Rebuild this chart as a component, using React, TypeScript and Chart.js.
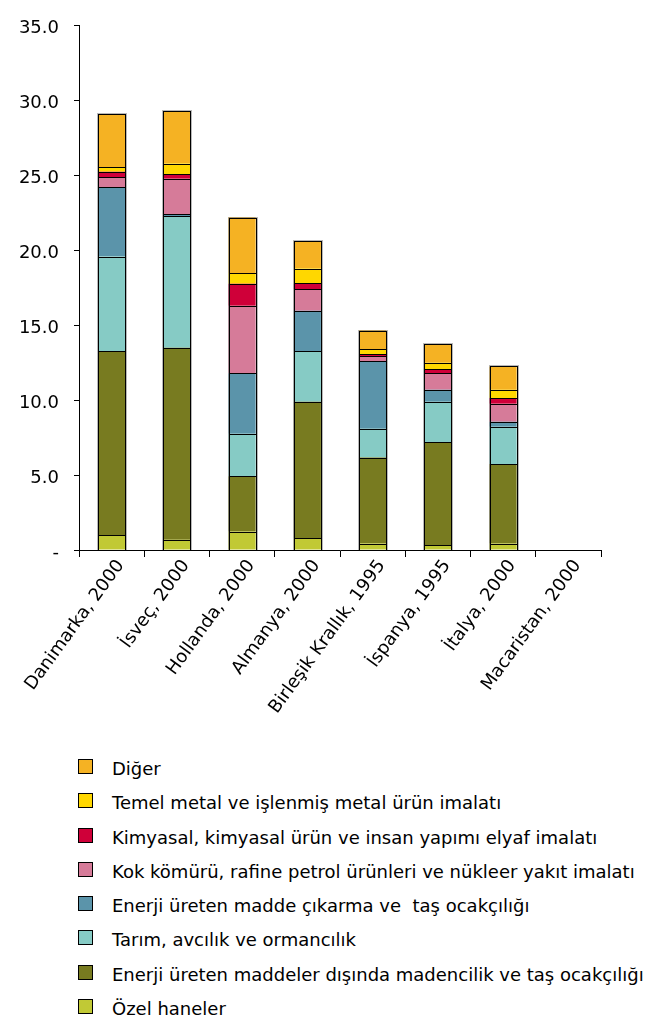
import React, { useEffect, useRef } from "react";
import { Chart, registerables } from "chart.js";

Chart.register(...registerables);

// Categories (country, year)
const categories = [
  "Danimarka, 2000",
  "İsveç, 2000",
  "Hollanda, 2000",
  "Almanya, 2000",
  "Birleşik Krallık, 1995",
  "İspanya, 1995",
  "İtalya, 2000",
  "Macaristan, 2000",
];

// Series values, stacked bottom to top
const ozelHaneler = [0.98, 0.68, 1.23, 0.78, 0.43, 0.32, 0.43, null];
const madencilik = [12.3, 12.82, 3.7, 9.12, 5.74, 6.87, 5.32, null];
const tarim = [6.31, 8.78, 2.83, 3.38, 1.92, 2.71, 2.48, null];
const enerjiCikarma = [4.64, 0.16, 4.04, 2.69, 4.53, 0.8, 0.33, null];
const kokKomuru = [0.66, 2.34, 4.5, 1.46, 0.31, 1.1, 1.21, null];
const kimyasal = [0.36, 0.33, 1.48, 0.37, 0.13, 0.27, 0.38, null];
const temelMetal = [0.33, 0.69, 0.71, 0.99, 0.35, 0.43, 0.55, null];
const diger = [3.51, 3.48, 3.71, 1.82, 1.24, 1.24, 1.56, null];

// Series names, in stacking order (bottom first)
const seriesNames = [
  "Özel haneler",
  "Enerji üreten maddeler dışında madencilik ve taş ocakçılığı",
  "Tarım, avcılık ve ormancılık",
  "Enerji üreten madde çıkarma ve  taş ocakçılığı",
  "Kok kömürü, rafine petrol ürünleri ve nükleer yakıt imalatı",
  "Kimyasal, kimyasal ürün ve insan yapımı elyaf imalatı",
  "Temel metal ve işlenmiş metal ürün imalatı",
  "Diğer",
];
const seriesValues = [ozelHaneler, madencilik, tarim, enerjiCikarma, kokKomuru, kimyasal, temelMetal, diger];
const seriesColors = ["#C1C935", "#787B20", "#86CBC5", "#5B94AA", "#D67B99", "#CF0039", "#FFD700", "#F5B223"];

// Y-axis ticks
const yTickValues = [0, 5, 10, 15, 20, 25, 30, 35];
const yTickLabels = ["-", "5.0", "10.0", "15.0", "20.0", "25.0", "30.0", "35.0"];

const FONT = "'DejaVu Sans', Verdana, sans-serif";
const CANVAS_W = 651;
const CANVAS_H = 740;

// Crisp 1px outlines on every bar segment, plus a soft grey edge around each stack
const crispOutline = {
  id: "crispOutline",
  afterDatasetsDraw(chart: any) {
    const ctx = chart.ctx;
    const stacks: Record<number, { l: number; r: number; t: number; b: number }> = {};
    const rects: { l: number; r: number; t: number; b: number }[] = [];
    chart.data.datasets.forEach((_: any, di: number) => {
      const meta = chart.getDatasetMeta(di);
      meta.data.forEach((el: any, idx: number) => {
        const v = chart.data.datasets[di].data[idx];
        if (v === null || v === undefined) return;
        const p = el.getProps(["x", "y", "base", "width"], true);
        const l = Math.round(p.x - p.width / 2);
        const r = Math.round(p.x + p.width / 2);
        const t = Math.round(Math.min(p.y, p.base));
        const b = Math.round(Math.max(p.y, p.base));
        rects.push({ l, r, t, b });
        const s = stacks[idx];
        if (!s) stacks[idx] = { l, r, t, b };
        else {
          s.t = Math.min(s.t, t);
          s.b = Math.max(s.b, b);
        }
      });
    });
    ctx.save();
    ctx.lineWidth = 1;
    ctx.strokeStyle = "rgba(0,0,0,0.28)";
    Object.values(stacks).forEach((s) => {
      ctx.strokeRect(s.l - 0.5, s.t - 0.5, s.r - s.l + 2, s.b - s.t + 1);
    });
    ctx.strokeStyle = "#000";
    rects.forEach((q) => {
      ctx.strokeRect(q.l + 0.5, q.t + 0.5, q.r - q.l, q.b - q.t);
    });
    ctx.restore();
  },
};

export default function App() {
  const canvasRef = useRef<HTMLCanvasElement | null>(null);

  useEffect(() => {
    const canvas = canvasRef.current;
    if (!canvas) return;
    Chart.defaults.font.family = FONT;
    Chart.defaults.font.size = 18;
    Chart.defaults.color = "#000";

    const chart = new Chart(canvas, {
      type: "bar",
      data: {
        labels: categories,
        datasets: seriesNames.map((name, i) => ({
          label: name,
          data: seriesValues[i],
          backgroundColor: seriesColors[i],
          borderWidth: 0,
          categoryPercentage: 1,
          barPercentage: 0.415,
        })),
      },
      options: {
        animation: false,
        responsive: false,
        devicePixelRatio: 1,
        layout: { padding: { top: 21, right: 50, left: 0, bottom: 0 } },
        plugins: { legend: { display: false }, tooltip: { enabled: false } },
        scales: {
          x: {
            stacked: true,
            grid: {
              display: true,
              drawOnChartArea: false,
              drawTicks: true,
              tickLength: 7,
              color: "#000",
              offset: true,
            },
            border: { display: true, color: "#000", width: 1 },
            ticks: {
              autoSkip: false,
              minRotation: 54,
              maxRotation: 54,
              padding: -1,
              labelOffset: 9,
              color: "#000",
              font: { family: FONT, size: 18 },
            },
            afterFit: (s: any) => {
              s.height = CANVAS_H - 550;
              s.paddingLeft = 0;
              s.paddingRight = 0;
            },
          },
          y: {
            stacked: true,
            min: 0,
            max: 35,
            afterBuildTicks: (s: any) => {
              s.ticks = yTickValues.map((v) => ({ value: v }));
            },
            ticks: {
              padding: 15,
              labelOffset: 3,
              color: "#000",
              font: { family: FONT, size: 18 },
              callback: (_v: any, idx: number) => yTickLabels[idx],
            },
            grid: {
              display: true,
              drawOnChartArea: false,
              drawTicks: true,
              tickLength: 5,
              color: "#000",
            },
            border: { display: true, color: "#000", width: 1 },
            afterFit: (s: any) => {
              s.width = 79;
            },
          },
        },
      },
      plugins: [crispOutline],
    });
    return () => chart.destroy();
  }, []);

  const legendOrder = seriesNames.map((_, i) => i).reverse();

  return (
    <div
      style={{
        position: "absolute",
        left: 0,
        top: 0,
        width: CANVAS_W,
        height: 1019,
        overflow: "hidden",
        background: "#fff",
        fontFamily: FONT,
      }}
    >
      <canvas
        ref={canvasRef}
        width={CANVAS_W}
        height={CANVAS_H}
        style={{ position: "absolute", left: 0, top: 0, width: CANVAS_W, height: CANVAS_H }}
      />
      {legendOrder.map((si, row) => (
        <div key={si}>
          <div
            style={{
              position: "absolute",
              left: 78,
              top: Math.round(759 + row * 34.28),
              width: 13,
              height: 13,
              border: "1px solid #000",
              background: seriesColors[si],
            }}
          />
          <div
            style={{
              position: "absolute",
              left: 112,
              top: Math.round(760 + row * 34.28),
              fontSize: 18,
              lineHeight: "18px",
              whiteSpace: "pre",
              color: "#000",
            }}
          >
            {seriesNames[si]}
          </div>
        </div>
      ))}
    </div>
  );
}
